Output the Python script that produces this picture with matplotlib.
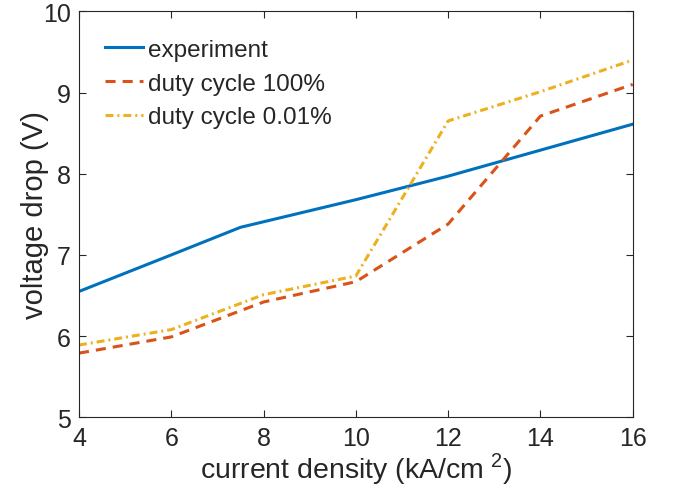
import numpy as np
import matplotlib.pyplot as plt

plt.rcParams['font.family'] = ['Liberation Sans', 'DejaVu Sans']
plt.rcParams['mathtext.fontset'] = 'custom'
plt.rcParams['mathtext.rm'] = 'Liberation Sans'

# data
xExp = [4, 6, 7.5, 10, 12, 14, 16]
yExp = [6.55, 7.0, 7.34, 7.68, 7.97, 8.29, 8.61]
xSim = [4, 6, 8, 10, 12, 14, 16]
yDuty100 = [5.79, 5.99, 6.42, 6.67, 7.38, 8.71, 9.10]
yDuty001 = [5.89, 6.08, 6.51, 6.74, 8.65, 9.01, 9.40]
labels = ['experiment', 'duty cycle 100%', 'duty cycle 0.01%']

fig = plt.figure(figsize=(6.78, 4.89), dpi=100)
ax = fig.add_axes([0.1165, 0.1446, 0.8167, 0.8302])

ax.plot(xExp, yExp, '-', color=(0, 0.447, 0.741), lw=2.2, label=labels[0])
ax.plot(xSim, yDuty100, color=(0.850, 0.325, 0.098), lw=2.2, label=labels[1],
        dashes=(3.3, 2.3))
ax.plot(xSim, yDuty001, color=(0.929, 0.694, 0.125), lw=2.2, label=labels[2],
        dashes=(2.6, 1.3, 0.65, 1.3))

ax.set_xlim(4, 16)
ax.set_ylim(5, 10)
ax.set_xticks(np.arange(4, 17, 2))
ax.set_yticks(np.arange(5, 11, 1))
ax.tick_params(direction='in', top=True, right=True, length=5, width=0.8,
               labelsize=18, colors='#262626', pad=6)
for s in ax.spines.values():
    s.set_color('#262626')
    s.set_linewidth(0.8)

ax.set_xlabel(r'current density (kA/cm$^{\ 2}$)', fontsize=20.5, color='#262626', labelpad=0)
ax.set_ylabel('voltage drop (V)', fontsize=21, color='#262626')
ax.yaxis.set_label_coords(-0.055, 0.5)

leg = ax.legend(loc='upper left', frameon=False, fontsize=17.5, handlelength=1.56,
                handletextpad=0.2, labelspacing=0.48, borderaxespad=0, borderpad=0,
                bbox_to_anchor=(0.047, 0.932))
for t in leg.get_texts():
    t.set_color('#262626')

fig.savefig('out.png', dpi=100)
